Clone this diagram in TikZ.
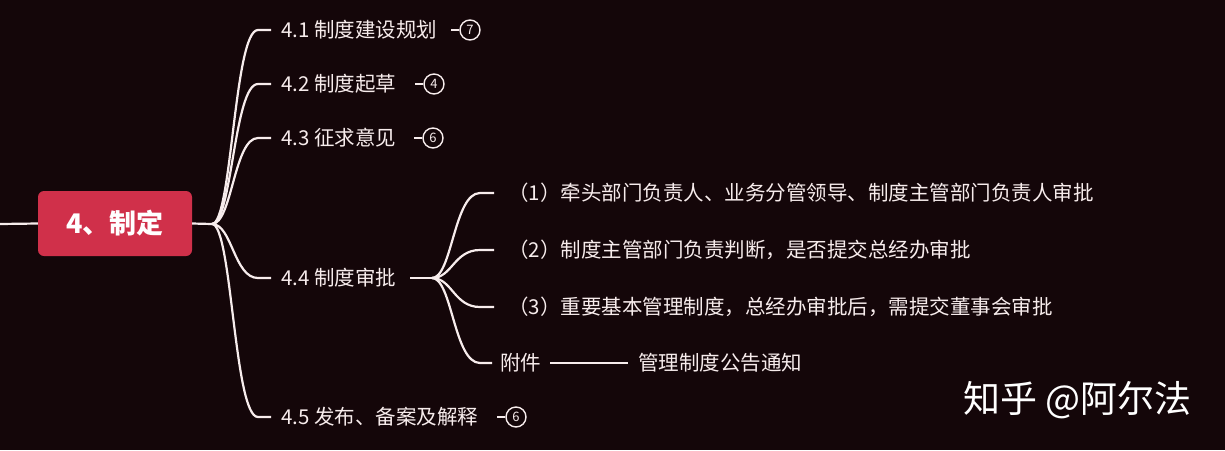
\documentclass[tikz,border=0pt]{standalone}
\usepackage{fontspec}
\setmainfont{Noto Sans CJK SC}
\begin{document}
\begin{tikzpicture}[x=1pt,y=-1pt,
  ln/.style={draw=fg,line width=2.2pt},
  lbl/.style={text=fg,anchor=west,font=\fontsize{20.5}{22}\selectfont,inner sep=0pt},
  badge/.style={circle,draw=fg,line width=1.4pt,minimum size=20pt,inner sep=0pt,text=fg,font=\fontsize{13}{13}\selectfont}]
\definecolor{bg}{HTML}{140609}
\definecolor{fg}{HTML}{F7ECEC}
\definecolor{rootc}{HTML}{D0304A}
\fill[bg] (0,0) rectangle (1225,450);
\useasboundingbox (0,0) rectangle (1225,450);
\coordinate (L) at (0,224);
\node[fill=rootc,rounded corners=6pt,minimum width=154pt,minimum height=65pt,text=white,font=\bfseries\fontsize{27}{29}\selectfont] (root) at (115,223.5) {4、制定};
\draw[ln] (L) -- (root.west);
\coordinate (r) at (212,224);
\draw[ln] (root.east) -- (r);
\node[lbl] (a) at (281,30) {4.1 制度建设规划};
\node[lbl] (b) at (281,84) {4.2 制度起草};
\node[lbl] (c) at (281,138) {4.3 征求意见};
\node[lbl] (d) at (281,278) {4.4 制度审批};
\node[lbl] (e) at (281,417) {4.5 发布、备案及解释};
\foreach \n in {a,b,c,d,e}{\draw[ln] (r) .. controls (232,224) and (234,0|-\n.west) .. (258,0|-\n.west) -- ([xshift=-10pt]\n.west);}
\node[badge] (ba) at (470,30) {7};
\node[badge] (bb) at (434,84) {4};
\node[badge] (bc) at (433,138) {6};
\node[badge] (be) at (516,417) {6};
\draw[fg,line width=1.5pt] ([xshift=-8pt]ba.west) -- (ba.west);
\draw[fg,line width=1.5pt] ([xshift=-8pt]bb.west) -- (bb.west);
\draw[fg,line width=1.5pt] ([xshift=-8pt]bc.west) -- (bc.west);
\draw[fg,line width=1.5pt] ([xshift=-8pt]be.west) -- (be.west);
\coordinate (s) at (432,278);
\draw[ln] (410,278) -- (s);
\node[lbl] (d1) at (508,193) {（1）牵头部门负责人、业务分管领导、制度主管部门负责人审批};
\node[lbl] (d2) at (508,250) {（2）制度主管部门负责判断，是否提交总经办审批};
\node[lbl] (d3) at (508,307) {（3）重要基本管理制度，总经办审批后，需提交董事会审批};
\node[lbl] (d4) at (500,363) {附件};
\node[lbl] (d5) at (638,363) {管理制度公告通知};
\foreach \n in {d1,d2,d3}{\draw[ln] (s) .. controls (452,278) and (454,0|-\n.west) .. (480,0|-\n.west) -- (494,0|-\n.west);}
\draw[ln] (s) .. controls (452,278) and (454,363) .. (480,363) -- ([xshift=-8pt]d4.west);
\draw[ln] (550,363) -- (628,363);
\node[text=white,anchor=west,font=\fontsize{37}{40}\selectfont,inner sep=0pt] (w) at (963,400) {知乎 @阿尔法};
\end{tikzpicture}
\end{document}
